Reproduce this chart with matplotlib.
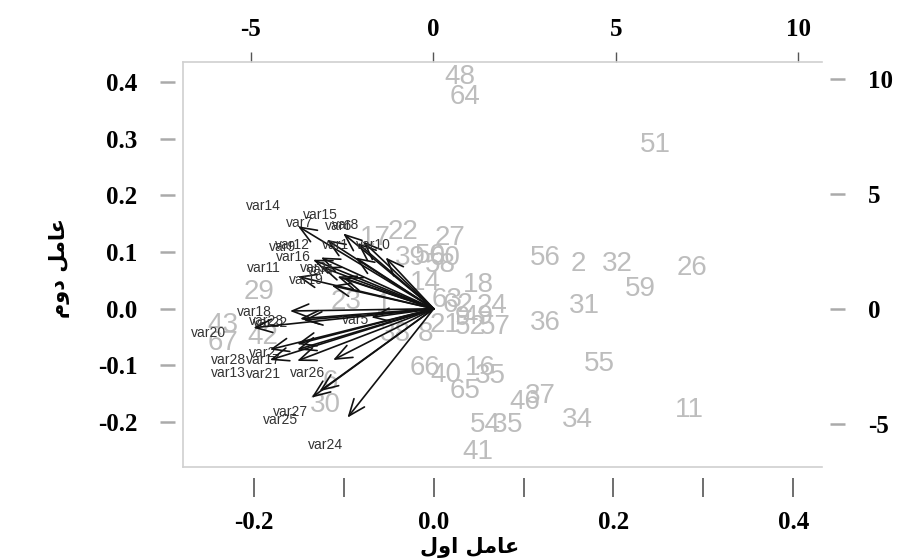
import numpy as np
import matplotlib
matplotlib.use("Agg")
import matplotlib.pyplot as plt

# observation scores (top / right axes)
obs_labels = ["48", "64", "51", "22", "27", "17", "39", "50", "60", "58",
              "56", "2", "32", "26", "59", "18", "14", "31", "36", "62",
              "24", "63", "49", "9", "52", "57", "21", "8", "38", "23",
              "1", "29", "43", "67", "42", "6", "30", "66", "40", "16",
              "35", "65", "55", "46", "37", "34", "11", "54", "3", "5", "41"]
obs_x = [0.74, 0.87, 6.07, -0.82, 0.46, -1.58, -0.63, -0.08, 0.33, 0.19,
         3.06, 3.96, 5.05, 7.08, 5.66, 1.23, -0.22, 4.15, 3.06, 0.68,
         1.61, 0.38, 1.23, 0.79, 1.01, 1.69, 0.33, -0.22, -1.04, -2.40,
         -1.37, -4.78, -5.77, -5.77, -4.67, -2.81, -2.95, -0.22, 0.33, 1.28,
         1.56, 0.87, 4.56, 2.51, 2.92, 3.96, 7.02, 1.42, 1.83, 2.24, 1.23]
obs_y = [10.09, 9.22, 7.13, 3.35, 3.09, 3.09, 2.22, 2.30, 2.22, 1.91,
         2.22, 1.96, 1.96, 1.78, 0.87, 1.04, 1.13, 0.13, -0.61, 0.17,
         0.13, 0.39, -0.35, -0.39, -0.78, -0.78, -0.70, -1.09, -1.09, 0.30,
         0.17, 0.74, -0.70, -1.48, -1.22, -3.17, -4.17, -2.57, -2.87, -2.57,
         -2.91, -3.57, -2.39, -4.04, -3.78, -4.83, -4.39, -5.04, -5.04, -5.04, -6.22]

# variable loadings (bottom / left axes)
var_labels = ["var14", "var15", "var7", "var6", "var8", "var12", "var9", "var16",
              "var1", "var10", "var11", "var3", "var4", "var19", "var18", "var22",
              "var23", "var5", "var20", "var2", "var28", "var17", "var13", "var21",
              "var26", "var27", "var25", "var24"]
var_x = [-0.189, -0.126, -0.149, -0.106, -0.098, -0.157, -0.168, -0.156,
         -0.109, -0.067, -0.189, -0.134, -0.126, -0.142, -0.200, -0.181,
         -0.186, -0.087, -0.251, -0.190, -0.228, -0.190, -0.228, -0.190,
         -0.140, -0.159, -0.170, -0.120]
var_y = [0.182, 0.166, 0.152, 0.145, 0.148, 0.113, 0.108, 0.092,
         0.113, 0.113, 0.071, 0.071, 0.068, 0.051, -0.005, -0.025,
         -0.022, -0.019, -0.042, -0.078, -0.090, -0.090, -0.113, -0.115,
         -0.113, -0.182, -0.196, -0.240]

bottom_ticks = [-0.2, -0.1, 0.0, 0.1, 0.2, 0.3, 0.4]
bottom_labels = ["-0.2", "", "0.0", "", "0.2", "", "0.4"]
left_ticks = [-0.2, -0.1, 0.0, 0.1, 0.2, 0.3, 0.4]
left_labels = ["-0.2", "-0.1", "0.0", "0.1", "0.2", "0.3", "0.4"]
top_ticks = [-5, 0, 5, 10]
right_ticks = [-5, 0, 5, 10]

# Persian axis titles, shaped by hand (presentation forms, visual order)
xlab = "\uFEDD\uFEED\uFE8D \uFEDE\uFEE3\uFE8E\uFECB"   # عامل اول
ylab = "\uFEE1\uFEED\uFEA9 \uFEDE\uFEE3\uFE8E\uFECB"   # عامل دوم

fig = plt.figure(figsize=(9.22, 5.59), dpi=100)
rect = [183 / 922, 1 - 467 / 559, (822 - 183) / 922, (467 - 62) / 559]

tick_font = dict(family="Liberation Serif", weight="bold", size=18)
box_col = "#d0d0d0"
tick_col = "#555555"

# scores axes (behind)
ax2 = fig.add_axes(rect)
for s in ax2.spines.values():
    s.set_color(box_col)
    s.set_linewidth(1.2)
ax2.spines["right"].set_position(("outward", 6))
ax2.spines["right"].set_visible(False)
ax2.set_xlim(-6.86, 10.65)
ax2.set_ylim(-6.87, 10.74)
for lab, x, y in zip(obs_labels, obs_x, obs_y):
    ax2.text(x, y, lab, color="#bdbdbd", fontsize=20, family="Liberation Sans",
             ha="center", va="center")
ax2.xaxis.tick_top()
ax2.yaxis.tick_right()
ax2.set_xticks(top_ticks)
ax2.set_yticks(right_ticks)
ax2.set_xticklabels([str(t) for t in top_ticks], fontdict=tick_font)
ax2.set_yticklabels([str(t) for t in right_ticks], fontdict=tick_font)
ax2.tick_params(axis="x", length=7, width=1, color=tick_col, pad=8)
ax2.tick_params(axis="y", length=11, width=1.8, color="#aaaaaa", pad=16)

# loadings axes (front)
ax = fig.add_axes(rect)
for s in ax.spines.values():
    s.set_visible(False)
ax.spines["bottom"].set_position(("outward", 8))
ax.spines["left"].set_position(("outward", 6))
ax.patch.set_visible(False)
ax.set_xlim(-0.279, 0.432)
ax.set_ylim(-0.279, 0.435)
for lab, x, y in zip(var_labels, var_x, var_y):
    ax.annotate("", xy=(0.8 * x, 0.8 * y), xytext=(0, 0),
                arrowprops=dict(arrowstyle="->,head_length=1.0,head_width=0.4",
                                color="#111111", lw=1.2, shrinkA=0, shrinkB=0,
                                mutation_scale=12))
    ax.text(x, y, lab, color="#333333", fontsize=10, family="Liberation Sans",
            ha="center", va="center")
ax.set_xticks(bottom_ticks)
ax.set_xticklabels(bottom_labels, fontdict=tick_font)
ax.set_yticks(left_ticks)
ax.set_yticklabels(left_labels, fontdict=tick_font)
ax.tick_params(axis="x", length=14, width=1.2, color=tick_col, pad=10)
ax.tick_params(axis="y", length=11, width=1.8, color="#aaaaaa", pad=16)

fig.text(470 / 922, 1 - 548 / 559, xlab, ha="center", va="center",
         fontsize=15, family="DejaVu Sans", weight="bold")
fig.text(60 / 922, 1 - 268 / 559, ylab, ha="center", va="center", rotation=90,
         fontsize=15, family="DejaVu Sans", weight="bold")

fig.savefig("out.png", dpi=100)
